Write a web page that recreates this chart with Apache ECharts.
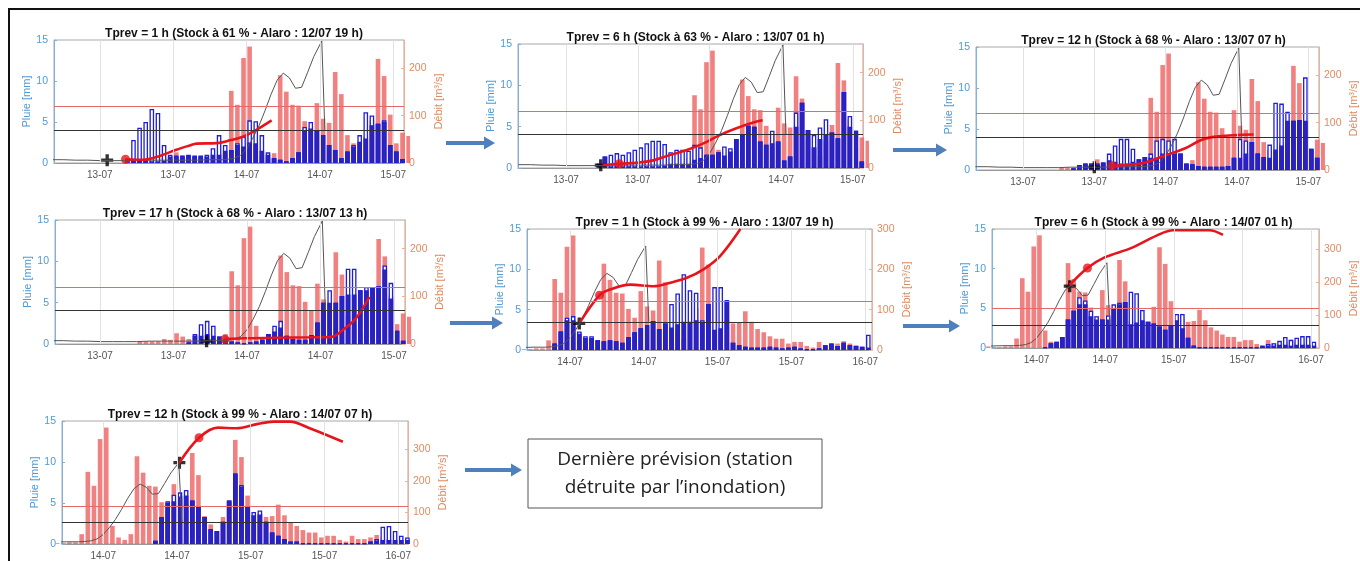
<!DOCTYPE html>
<html>
<head>
<meta charset="utf-8">
<title>Prévisions Tprev</title>
<script src="https://cdn.jsdelivr.net/npm/echarts@6/dist/echarts.min.js"></script>
<style>
  html, body { margin: 0; padding: 0; background: #fff; }
  #chart { width: 1360px; height: 561px; }
</style>
</head>
<body>
<div id="chart"></div>
<script>
// Hours are counted from 13/07 00 h

// Observed rain (mm/h), first value is hour 6
const obsRainStart = 6;
const obsRain = [0.3, 0.3, 0.3, 0.3, 0.6, 0.5, 1.3, 0.9, 0.6, 0.2, 0.1, 0.1, 0.2, 0.2, 1.2,
  8.8, 7.1, 12.8, 14.2, 2.2, 0.8, 0.5, 1.2, 10.7, 8.7, 7.1, 7.0, 5.1, 4.0, 7.3, 5.4, 4.9,
  11.1, 8.4, 3.4, 2.4, 1.4, 3.3, 5.2, 12.7, 10.6, 5.9, 2.4, 3.7, 3.3, 3.4, 4.8, 3.5, 2.6,
  2.2, 1.7, 1.4, 1.4, 0.8, 1.0, 1.0, 0.5, 0.3, 1.0, 0.6, 0.6, 0.8, 1.1, 0.8, 0.6, 0.3, 0.4];

// Observed discharge (m³/s), station lost after the peak
const obsFlowHours = [-8, -6, -4, -2, 0, 2, 4, 6, 8, 10, 12, 14, 16, 18, 20, 21, 22, 23, 24,
  25, 26, 27, 28, 29, 30, 31, 32, 33, 34, 35, 36.3, 36.8];
const obsFlow = [7, 7, 6, 6, 5, 5, 5, 5, 6, 6, 6, 6, 6, 7, 7, 8, 10, 16, 30,
  52, 78, 110, 145, 175, 190, 180, 158, 160, 192, 225, 258, 70];

const thresholdHigh = 120;
const thresholdLow = 70;

const ticksA = [0, 12, 24, 36, 48];
const labelsA = ['13-07', '13-07', '14-07', '14-07', '15-07'];
const ticksB = [24, 36, 48, 60, 72];
const labelsB = ['14-07', '14-07', '15-07', '15-07', '16-07'];

const titles = [
  'Tprev = 1 h (Stock à 61 % - Alaro : 12/07 19 h)',
  'Tprev = 6 h (Stock à 63 % - Alaro : 13/07 01 h)',
  'Tprev = 12 h (Stock à 68 % - Alaro : 13/07 07 h)',
  'Tprev = 17 h (Stock à 68 % - Alaro : 13/07 13 h)',
  'Tprev = 1 h (Stock à 99 % - Alaro : 13/07 19 h)',
  'Tprev = 6 h (Stock à 99 % - Alaro : 14/07 01 h)',
  'Tprev = 12 h (Stock à 99 % - Alaro : 14/07 07 h)'
];
const flowMax = [260, 260, 260, 260, 300, 360, 390];

// Forecast rain (hollow bars) and filled rain, per panel
const rainStart = [4, 5, 8, 14, 21, 25, 32];
const alaro1 = [0.5, 2.8, 4.3, 5.0, 6.6, 6.1, 2.2, 1.0, 0.9, 0.9, 1.0, 0.9, 0.9, 1.0, 1.8, 3.4, 2.2, 1.6, 2.4, 3.2,
  5.2, 5.1, 3.4, 1.3, 0.6, 0.4, 0.2, 0.6, 1.3, 4.4, 5.0, 4.0, 3.4, 2.2, 1.6, 0.6, 1.4, 2.2, 3.4, 6.2, 5.8, 4.8, 5.2, 2.2, 1.4, 0.5];
const filled1 = [0.5, 0.3, 0.3, 0.3, 0.2, 0.2, 0.3, 0.8, 0.8, 0.8, 0.9, 0.8, 0.8, 0.8, 1.0, 1.0, 1.5, 1.6, 2.2, 2.0,
  2.5, 2.4, 1.5, 1.0, 0.6, 0.4, 0.2, 0.6, 1.3, 4.0, 4.2, 4.0, 3.4, 2.2, 1.6, 0.6, 1.4, 2.0, 2.6, 3.0, 4.6, 4.8, 5.0, 2.2, 1.4, 0.5];
const alaro2 = [0.5, 1.4, 1.6, 1.8, 1.6, 1.9, 2.2, 2.5, 3.0, 3.3, 3.3, 2.9, 1.9, 2.2, 2.2, 2.1, 2.8, 2.5, 1.6, 1.6,
  1.9, 2.6, 2.4, 3.5, 4.0, 5.1, 5.0, 3.2, 2.8, 4.5, 3.2, 0.9, 1.4, 6.7, 7.9, 4.6, 4.0, 4.9, 5.9, 4.3, 3.6, 9.2, 6.3, 4.5, 0.8];
const filled2 = [0.5, 1.4, 0.2, 0.2, 0.2, 0.2, 0.2, 0.2, 0.2, 0.2, 0.2, 0.3, 0.5, 0.5, 0.5, 0.5, 1.0, 1.2, 1.6, 1.6,
  1.9, 1.5, 2.0, 3.5, 4.0, 5.1, 5.0, 3.2, 2.8, 3.0, 3.2, 0.9, 1.4, 5.0, 7.9, 4.6, 2.5, 3.5, 4.0, 4.3, 3.6, 9.2, 5.0, 4.5, 0.8];
const alaro3 = [0.2, 0.6, 0.8, 0.8, 0.8, 0.9, 2.0, 3.0, 3.8, 3.8, 2.6, 1.3, 1.6, 2.0, 3.6, 3.8, 3.6, 3.8, 2.0, 0.8,
  0.7, 0.5, 0.4, 0.4, 0.4, 0.4, 0.5, 1.5, 3.8, 3.6, 3.4, 2.0, 1.6, 3.1, 8.2, 8.1, 7.1, 6.0, 6.1, 11.3, 2.6, 1.5];
const filled3 = [0.2, 0.6, 0.8, 0.8, 0.8, 0.9, 1.2, 1.0, 0.8, 0.8, 1.0, 1.3, 1.6, 1.5, 1.5, 2.0, 2.0, 2.0, 2.0, 0.8,
  0.7, 0.5, 0.4, 0.4, 0.4, 0.4, 0.5, 1.5, 1.5, 2.0, 3.4, 2.0, 1.6, 1.5, 2.5, 3.0, 6.0, 6.0, 6.1, 6.0, 2.6, 1.5];
const alaro4 = [0.2, 1.2, 2.4, 2.8, 2.2, 0.9, 0.6, 0.3, 0.2, 0.1, 0.2, 0.3, 0.5, 1.2, 2.2, 2.8, 1.0, 0.6, 0.5, 0.5,
  1.1, 2.6, 5.0, 6.5, 5.0, 5.8, 9.1, 9.1, 6.5, 6.9, 6.8, 7.0, 9.5, 7.4, 1.6, 0.4];
const filled4 = [0.2, 1.0, 1.0, 1.2, 1.0, 0.9, 0.6, 0.3, 0.2, 0.1, 0.2, 0.3, 0.5, 1.2, 1.5, 2.0, 1.0, 0.6, 0.5, 0.5,
  1.1, 2.6, 5.0, 5.0, 5.0, 5.8, 6.0, 6.0, 6.5, 6.5, 6.8, 7.0, 9.0, 5.5, 1.6, 0.4];
const alaro5 = [0.8, 2.3, 4.0, 4.2, 2.3, 1.7, 1.7, 1.2, 1.1, 1.2, 1.1, 0.9, 1.6, 2.2, 2.7, 3.1, 3.6, 2.6, 3.3, 5.7,
  7.0, 9.4, 7.4, 7.1, 3.7, 5.7, 7.8, 7.8, 6.2, 0.9, 0.6, 0.4, 0.3, 0.3, 0.3, 0.4, 0.3, 0.2, 0.3, 0.4,
  0.2, 0.1, 0.1, 0.2, 0.6, 0.8, 0.5, 0.9, 0.6, 0.5, 0.4, 1.9];
const filled5 = [0.8, 2.3, 3.7, 3.7, 2.0, 1.5, 1.5, 1.2, 1.1, 1.2, 1.1, 0.9, 1.6, 2.2, 2.7, 3.1, 3.6, 2.6, 3.3, 2.8,
  3.2, 3.5, 3.5, 3.7, 3.5, 5.7, 2.5, 2.7, 6.0, 0.9, 0.6, 0.4, 0.3, 0.3, 0.3, 0.4, 0.3, 0.2, 0.3, 0.4,
  0.2, 0.1, 0.1, 0.2, 0.6, 0.8, 0.5, 0.9, 0.6, 0.5, 0.4, 0.3];
const alaro6 = [0.1, 0.6, 0.8, 1.4, 3.6, 4.7, 6.4, 6.0, 4.7, 4.0, 3.6, 4.1, 5.5, 5.7, 5.8, 7.1, 6.9, 4.8, 3.3, 3.1,
  2.7, 2.3, 2.9, 4.3, 4.3, 1.3, 0.3, 0.1, 0.1, 0.1, 0.1, 0.1, 0.1, 0.1, 0.1, 0.1, 0.1, 0.1, 0.3, 0.5,
  0.6, 0.9, 1.4, 1.0, 1.3, 1.5, 1.5, 0.8];
const filled6 = [0.1, 0.6, 0.8, 1.4, 3.6, 4.7, 5.5, 5.5, 4.0, 3.6, 3.6, 3.6, 5.0, 5.5, 5.8, 3.0, 3.2, 3.5, 3.3, 3.1,
  2.7, 2.3, 2.9, 3.5, 2.5, 1.3, 0.3, 0.1, 0.1, 0.1, 0.1, 0.1, 0.1, 0.1, 0.1, 0.1, 0.1, 0.1, 0.2, 0.3,
  0.3, 0.4, 0.4, 0.3, 0.4, 0.4, 0.4, 0.3];
const alaro7 = [0.4, 3.3, 5.2, 6.0, 6.3, 6.6, 5.3, 4.6, 3.3, 1.8, 1.6, 2.7, 5.3, 8.6, 7.2, 4.6, 3.9, 4.1, 2.7, 1.4,
  1.0, 0.6, 0.3, 0.3, 0.1, 0.1, 0.1, 0.1, 0.1, 0.1, 0.1, 0.1, 0.1, 0.1, 0.1, 0.3, 0.6, 2.1, 2.2, 1.6, 1.0, 0.8];
const filled7 = [0.4, 3.3, 5.0, 5.2, 5.8, 5.9, 5.3, 4.6, 3.3, 1.8, 1.6, 2.7, 5.3, 8.6, 7.0, 4.6, 3.5, 3.6, 2.7, 1.4,
  1.0, 0.6, 0.3, 0.3, 0.1, 0.1, 0.1, 0.1, 0.1, 0.1, 0.1, 0.1, 0.1, 0.1, 0.1, 0.3, 0.4, 0.5, 0.5, 0.5, 0.5, 0.5];

// Forecast discharge (m³/s)
const fcHours1 = [4.2, 7, 9.8, 12.5, 14.7, 15.8, 19.1, 21.3, 23.5, 25.6, 28.1];
const fcFlow1 = [8, 7, 15, 28, 37, 41, 42, 48, 56, 70, 90];
const fcHours2 = [6.2, 8.9, 11.8, 14.6, 17.3, 20.1, 22.9, 25.7, 28.4, 31.2, 32.9];
const fcFlow2 = [6, 9, 11, 16, 27, 37, 51, 69, 83, 95, 100];
const fcHours3 = [15, 17.9, 20.6, 24, 27.3, 30.1, 32.9, 38.8];
const fcFlow3 = [9, 11, 16, 31, 46, 64, 71, 75];
const fcHours4 = [20.4, 23.4, 28.8, 34.2, 37.8, 39.7, 41.8, 44];
const fcFlow4 = [10, 12, 13, 14, 15, 30, 54, 99];
const fcHours5 = [25.5, 28.8, 30.5, 33.8, 37.6, 40.3, 43, 45.7, 48.4, 51.7];
const fcFlow5 = [66, 136, 150, 162, 158, 167, 179, 200, 233, 300];
const fcHours6 = [29.8, 32.9, 35.9, 40.5, 45, 47.9, 54.2, 56.6];
const fcFlow6 = [191, 242, 274, 302, 340, 356, 356, 342];
const fcHours7 = [36.4, 39.6, 42.7, 45.7, 49, 51.7, 54.4, 57.6, 63];
const fcFlow7 = [258, 337, 369, 367, 380, 388, 388, 367, 324];

// Current time (+) and start of forecast (red dot)
const nowHours = [1.2, 5.8, 12, 17.4, 25.5, 29.8, 36.4];
const nowFlow = [6, 6, 6, 6, 66, 187, 258];
const dotHours = [4.2, 8.9, 15, 20.4, 28.8, 32.9, 39.6];
const dotFlow = [8, 9, 9, 10, 136, 242, 337];

const alaro = [alaro1, alaro2, alaro3, alaro4, alaro5, alaro6, alaro7];
const filled = [filled1, filled2, filled3, filled4, filled5, filled6, filled7];
const fcHours = [fcHours1, fcHours2, fcHours3, fcHours4, fcHours5, fcHours6, fcHours7];
const fcFlow = [fcFlow1, fcFlow2, fcFlow3, fcFlow4, fcFlow5, fcFlow6, fcFlow7];

// Panel boxes [left, top, width, height] and x window
const layout = [
  { box: [54, 40, 350, 123], range: [-7.5, 49.75], ticks: ticksA, labels: labelsA },
  { box: [518, 44, 345, 124], range: [-8.05, 49.7], ticks: ticksA, labels: labelsA },
  { box: [976, 47, 345, 123], range: [-7.9, 49.8], ticks: ticksA, labels: labelsA },
  { box: [55, 220, 350, 124], range: [-7.35, 49.8], ticks: ticksA, labels: labelsA },
  { box: [527, 229, 345, 121], range: [17, 73.1], ticks: ticksB, labels: labelsB },
  { box: [992, 229, 333, 119], range: [16.2, 73.4], ticks: ticksB, labels: labelsB },
  { box: [62, 421, 346, 123], range: [17.3, 73.6], ticks: ticksB, labels: labelsB }
];

const BLUE_TXT = '#4f9ad4';
const BLUE_LINE = '#7fb2de';
const ORANGE_TXT = '#df8a60';
const ORANGE_LINE = '#eeb097';

function zip(xs, ys) {
    return xs.map((x, i) => [x, ys[i]]);
}

function hourlyBars(start, values) {
    return values.map((v, i) => [start + i + 0.5, v]);
}

function buildPanel(i, opt) {
    const p = layout[i];
    const [left, top, width, height] = p.box;

    opt.grid.push({ left: left, top: top, width: width, height: height,
        show: true, borderColor: '#a8a8a8', borderWidth: 1 });

    opt.title.push({
        text: titles[i], left: left + width / 2, top: top - 17, textAlign: 'center',
        textStyle: { fontSize: 12, fontWeight: 'bold', color: '#111', fontFamily: 'Liberation Sans' }
    });

    opt.xAxis.push({
        gridIndex: i, type: 'value', min: p.range[0], max: p.range[1],
        axisLine: { show: true, onZero: false, lineStyle: { color: '#999' } },
        axisTick: { show: true, inside: true, length: 3, customValues: p.ticks, lineStyle: { color: '#888' } },
        axisLabel: {
            customValues: p.ticks, color: '#555', fontSize: 10, margin: 7,
            formatter: v => p.labels[p.ticks.indexOf(v)] || ''
        },
        splitLine: { show: false }
    });

    opt.yAxis.push({
        gridIndex: i, type: 'value', min: 0, max: 15, interval: 5, position: 'left',
        name: 'Pluie [mm]', nameLocation: 'middle', nameRotate: 90, nameGap: 19,
        nameTextStyle: { color: BLUE_TXT, fontSize: 11 },
        axisLine: { show: true, onZero: false, lineStyle: { color: BLUE_LINE } },
        axisTick: { show: true, inside: true, length: 3, lineStyle: { color: BLUE_LINE } },
        axisLabel: { color: BLUE_TXT, fontSize: 10.5, margin: 6 },
        splitLine: { show: false }
    });

    opt.yAxis.push({
        gridIndex: i, type: 'value', min: 0, max: flowMax[i], interval: 100, position: 'right',
        name: 'Débit [m³/s]', nameLocation: 'middle', nameRotate: 90, nameGap: 29,
        nameTextStyle: { color: ORANGE_TXT, fontSize: 11 },
        axisLine: { show: true, onZero: false, lineStyle: { color: ORANGE_LINE } },
        axisTick: { show: true, inside: true, length: 3, lineStyle: { color: ORANGE_LINE } },
        axisLabel: { color: ORANGE_TXT, fontSize: 10.5, margin: 5, showMaxLabel: flowMax[i] % 100 === 0 },
        splitLine: { show: false }
    });

    const xi = i, yl = 2 * i, yr = 2 * i + 1;

    // vertical grid lines at the date ticks
    opt.series.push({
        type: 'line', xAxisIndex: xi, yAxisIndex: yl, z: 1, silent: true,
        data: [[p.range[0], 0]], showSymbol: false, lineStyle: { opacity: 0 },
        markLine: {
            silent: true, symbol: 'none', label: { show: false },
            lineStyle: { color: '#e2e2e2', width: 1, type: 'solid' },
            data: p.ticks.map(t => ({ xAxis: t }))
        }
    });
    // observed rain
    opt.series.push({
        type: 'bar', xAxisIndex: xi, yAxisIndex: yl, barWidth: 4.6, barGap: '-100%',
        data: hourlyBars(obsRainStart, obsRain),
        itemStyle: { color: 'rgba(237, 98, 96, 0.8)' }, clip: true
    });
    // forecast rain, hollow
    opt.series.push({
        type: 'bar', xAxisIndex: xi, yAxisIndex: yl, barWidth: 4.6, barGap: '-100%',
        data: hourlyBars(rainStart[i], alaro[i]),
        itemStyle: { color: '#ffffff', borderColor: '#1f1fd8', borderWidth: 1.3 }, clip: true
    });
    // filled part
    opt.series.push({
        type: 'bar', xAxisIndex: xi, yAxisIndex: yl, barWidth: 4.6, barGap: '-100%',
        data: hourlyBars(rainStart[i], filled[i]),
        itemStyle: { color: '#3424a6', borderColor: '#1f1fd8', borderWidth: 1.3 }, clip: true
    });
    // observed discharge + thresholds
    opt.series.push({
        type: 'line', xAxisIndex: xi, yAxisIndex: yr, data: zip(obsFlowHours, obsFlow),
        showSymbol: false, clip: true, lineStyle: { color: '#555', width: 1 },
        markLine: {
            silent: true, symbol: 'none', label: { show: false },
            data: [
                { yAxis: thresholdHigh, lineStyle: { color: '#e46a6a', width: 1, type: 'solid' } },
                { yAxis: thresholdLow, lineStyle: { color: '#333', width: 1, type: 'solid' } }
            ]
        }
    });
    // forecast discharge
    opt.series.push({
        type: 'line', xAxisIndex: xi, yAxisIndex: yr, data: zip(fcHours[i], fcFlow[i]),
        showSymbol: false, smooth: 0.35, clip: true, lineStyle: { color: '#e8141c', width: 2.6 }
    });
    opt.series.push({
        type: 'scatter', xAxisIndex: xi, yAxisIndex: yr, data: [[dotHours[i], dotFlow[i]]],
        symbol: 'circle', symbolSize: 9, itemStyle: { color: '#e8141c' }
    });
    opt.series.push({
        type: 'scatter', xAxisIndex: xi, yAxisIndex: yr, data: [[nowHours[i], nowFlow[i]]],
        symbol: 'path://M3.6,0H6.4V10H3.6Z M0,3.6H10V6.4H0Z', symbolSize: 12, itemStyle: { color: '#000' }
    });
}

function arrow(x1, x2, y) {
    return {
        type: 'polygon',
        shape: { points: [[x1, y - 2], [x2 - 11, y - 2], [x2 - 11, y - 6.5], [x2, y],
            [x2 - 11, y + 6.5], [x2 - 11, y + 2], [x1, y + 2]] },
        style: { fill: '#4f7fbc' }
    };
}

function buildOption() {
    const opt = {
        animation: false,
        backgroundColor: '#ffffff',
        textStyle: { fontFamily: 'Liberation Sans' },
        title: [], grid: [], xAxis: [], yAxis: [], series: []
    };
    for (let i = 0; i < layout.length; i++) buildPanel(i, opt);

    opt.graphic = [
        { type: 'rect', shape: { x: 9, y: 9, width: 1360, height: 560 },
          style: { fill: 'none', stroke: '#111', lineWidth: 2 } },
        arrow(446, 495, 143),
        arrow(893, 947, 150),
        arrow(450, 503, 323),
        arrow(903, 960, 326),
        arrow(465, 522, 470),
        { type: 'rect', shape: { x: 528, y: 439, width: 294, height: 69 },
          style: { fill: '#fff', stroke: '#555', lineWidth: 1 } },
        { type: 'text', x: 675, y: 474,
          style: { text: 'Dernière prévision (station\ndétruite par l’inondation)',
                   font: '19px "Open Sans"', fill: '#222', align: 'center', verticalAlign: 'middle',
                   lineHeight: 28 } }
    ];
    return opt;
}

const chart = echarts.init(document.getElementById('chart'));
chart.setOption(buildOption());
</script>
</body>
</html>
